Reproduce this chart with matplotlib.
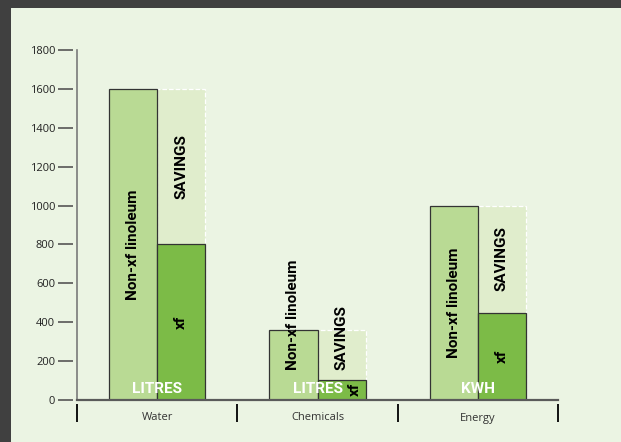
import matplotlib
matplotlib.use("Agg")
import matplotlib.pyplot as plt

categories = ['Water', 'Chemicals', 'Energy']
non_xf = [1600, 360, 1000]
xf = [800, 105, 450]
units = ['LITRES', 'LITRES', 'KWH']
yticks = [0, 200, 400, 600, 800, 1000, 1200, 1400, 1600, 1800]

BG = '#ebf4e3'
C_NON = '#b9da94'
C_XF = '#7cbb47'
C_SAVE = '#e0edcc'
BOLD = dict(fontsize=11, fontweight='bold', family=['Roboto', 'DejaVu Sans'])

fig = plt.figure(figsize=(6.21, 4.42), dpi=100)
fig.patch.set_facecolor('#404040')
bg = fig.add_axes([11/621, 0, 1, 434/442], zorder=0)
bg.axis('off')
bg.add_patch(plt.Rectangle((0, 0), 1, 1, transform=bg.transAxes, color=BG))

ax = fig.add_axes([77/621, 42/442, 481/621, 350/442], zorder=1)
ax.patch.set_alpha(0)
ax.set_xlim(0, 3)
ax.set_ylim(0, 1800)

w = 0.3
for i in range(len(categories)):
    c = i + 0.5
    # savings area behind xf bar
    ax.bar(c + w/2, non_xf[i], width=w, color=C_SAVE, edgecolor='white',
           linestyle='--', linewidth=0.9, zorder=1)
    ax.bar(c - w/2, non_xf[i], width=w, color=C_NON, edgecolor='#333333',
           linewidth=0.9, zorder=2)
    ax.bar(c + w/2, xf[i], width=w, color=C_XF, edgecolor='#333333',
           linewidth=0.9, zorder=2)

    if non_xf[i] > 600:
        ax.text(c - w/2, non_xf[i]/2, 'Non-xf linoleum', rotation=90, ha='center',
                va='center', zorder=5, **BOLD)
    else:
        ax.text(c - w/2, 155, 'Non-xf linoleum', rotation=90, ha='center',
                va='bottom', zorder=5, **BOLD)
    gap = non_xf[i] - xf[i]
    if gap > 400:
        ax.text(c + w/2, xf[i] + gap/2, 'SAVINGS', rotation=90, ha='center',
                va='center', zorder=5, **BOLD)
    else:
        ax.text(c + w/2, 155, 'SAVINGS', rotation=90, ha='center',
                va='bottom', zorder=5, **BOLD)
    # short bar: nudge the xf label right, clear of the unit label
    dx = 0.08 if xf[i] < 200 else 0
    ax.text(c + w/2 + dx, xf[i]/2, 'xf', rotation=90, ha='center', va='center',
            zorder=5, **BOLD)
    ax.text(c, 20, units[i], ha='center', va='bottom', color='white',
            zorder=6, **BOLD)

for s in ['top', 'right']:
    ax.spines[s].set_visible(False)
ax.spines['left'].set_color('#7a7a7a')
ax.spines['left'].set_linewidth(1.2)
ax.spines['bottom'].set_color('#5a5a5a')
ax.spines['bottom'].set_linewidth(1.6)
ax.spines['bottom'].set_zorder(7)

ax.set_xticks([i + 0.5 for i in range(len(categories))])
ax.set_xticklabels(categories, family='Open Sans', fontsize=8, color='#333333')
ax.tick_params(axis='x', length=0, pad=9)
ax.set_yticks([])

# y ticks set slightly off the spine
sy = ax.secondary_yaxis(-0.008)
sy.set_yticks(yticks)
sy.spines['left'].set_visible(False)
sy.tick_params(axis='y', length=11, width=1.2, color='#555555', pad=2,
               labelsize=8, labelcolor='#222222')
for lab in sy.get_yticklabels():
    lab.set_family('Open Sans')

# category separators below the axis
sx = ax.secondary_xaxis(-0.012)
sx.set_xticks(range(len(categories) + 1))
sx.set_xticklabels([])
sx.spines['bottom'].set_visible(False)
sx.tick_params(axis='x', length=13, width=1.3, color='black')

fig.savefig('out.png', dpi=100, facecolor=fig.get_facecolor())
